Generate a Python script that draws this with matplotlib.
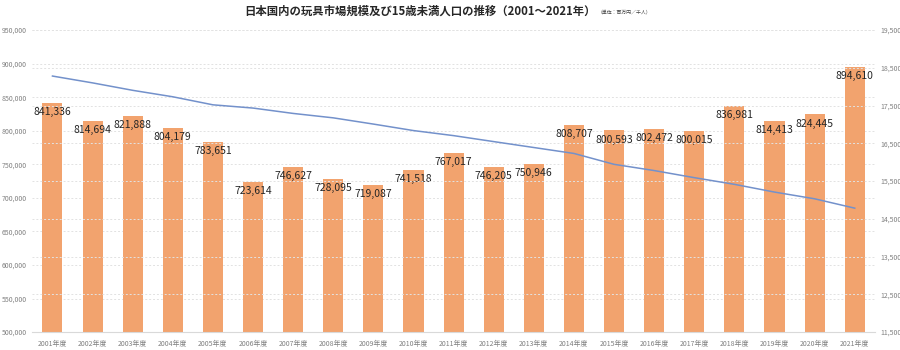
import matplotlib.pyplot as plt
from matplotlib.ticker import FuncFormatter, MultipleLocator

plt.rcParams['font.family'] = ['Noto Sans CJK JP', 'DejaVu Sans']

years = list(range(2001, 2022))
year_labels = [f"{y}年度" for y in years]

# 玩具市場規模（百万円）
market = [841336, 814694, 821888, 804179, 783651, 723614, 746627, 728095, 719087, 741518,
          767017, 746205, 750946, 808707, 800593, 802472, 800015, 836981, 814413, 824445,
          894610]

# 15歳未満人口（千人）
children = [18283, 18102, 17905, 17734, 17521, 17435, 17293, 17176, 17011, 16839,
            16705, 16547, 16390, 16233, 15945, 15780, 15592, 15415, 15210, 15032,
            14784]

bar_color = '#F2A36E'
line_color = '#7391CB'
grid_color = '#E2E2E2'
tick_color = '#808080'

fig = plt.figure(figsize=(9, 3.5), dpi=100)
ax = fig.add_axes([0.036, 0.051, 0.936, 0.863])
ax2 = ax.twinx()

x = list(range(len(years)))
ax.bar(x, market, width=0.5, color=bar_color, zorder=2)
for xi, v in zip(x, market):
    ax.annotate(f"{v:,}", (xi, v), xytext=(0, -3), textcoords='offset points',
                ha='center', va='top', fontsize=7.5, color='#262626', zorder=4)

ax2.plot(x, children, color=line_color, linewidth=1.1, zorder=3)

ax.set_xlim(-0.5, len(years) - 0.5)
ax.set_ylim(500000, 950000)
ax.yaxis.set_major_locator(MultipleLocator(50000))
ax.yaxis.set_major_formatter(FuncFormatter(lambda v, p: f"{int(v):,}"))
ax2.set_ylim(11500, 19500)
ax2.set_yticks(range(11500, 19501, 1000))
ax2.yaxis.set_major_formatter(FuncFormatter(lambda v, p: f"{int(v):,}"))

ax.set_xticks(x)
ax.set_xticklabels(year_labels)

for a in (ax, ax2):
    for s in a.spines.values():
        s.set_visible(False)
    a.tick_params(length=0, labelsize=5, labelcolor=tick_color, pad=4)
ax.tick_params(axis='x', pad=6)

ax.grid(axis='y', color=grid_color, linewidth=0.7, linestyle=(0, (2, 2)), zorder=0)
ax2.grid(axis='y', color=grid_color, linewidth=0.7, linestyle=(0, (2, 2)), zorder=0)
ax.spines['bottom'].set_visible(True)
ax.spines['bottom'].set_color('#D9D9D9')
ax.set_axisbelow(True)
ax.set_zorder(ax2.get_zorder() - 1)
ax.patch.set_visible(False)

fig.text(0.467, 0.967, "日本国内の玩具市場規模及び15歳未満人口の推移（2001～2021年）",
         ha='center', va='center', fontsize=8.2, fontweight='bold', color='#262626')
fig.text(0.664, 0.967, "（単位：百万円／千人）", ha='left', va='center',
         fontsize=3.5, color='#404040')

fig.savefig('out.png', dpi=100)
